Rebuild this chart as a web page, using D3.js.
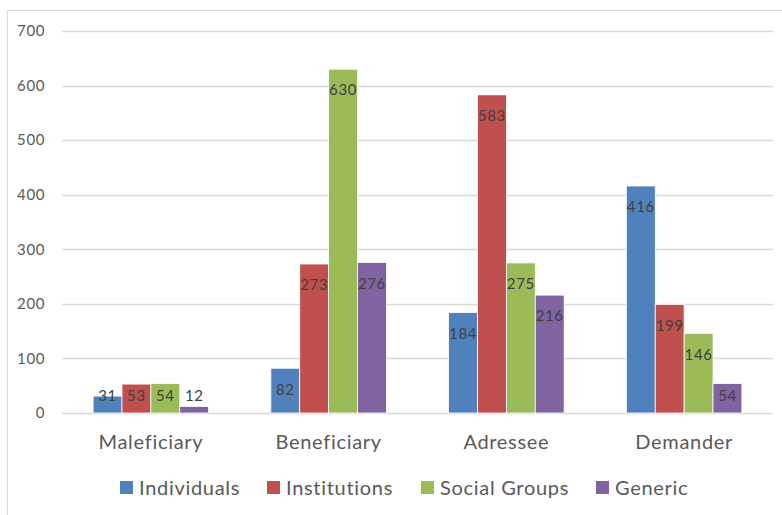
<!DOCTYPE html>
<html><head><meta charset="utf-8">
<script src="https://cdn.jsdelivr.net/npm/d3@7"></script>
<style>html,body{margin:0;padding:0;background:#fff}svg{display:block}</style>
</head><body>
<svg id="chart" width="782" height="515"></svg>
<script>
const categories = ["Maleficiary", "Beneficiary", "Adressee", "Demander"];
const seriesNames = ["Individuals", "Institutions", "Social Groups", "Generic"];
const individuals = [31, 82, 184, 416];
const institutions = [53, 273, 583, 199];
const socialGroups = [54, 630, 275, 146];
const generic = [12, 276, 216, 54];
const yTicks = [0, 100, 200, 300, 400, 500, 600, 700];
const colors = ["#4F81BD", "#C0504D", "#9BBB59", "#8064A2"];

(function () {
const seriesValues = [individuals, institutions, socialGroups, generic];
const font = "Lato, 'Open Sans', sans-serif";
const svg = d3.select("#chart");

svg.append("rect").attr("x", 7.5).attr("y", 10.5).attr("width", 800).attr("height", 600)
  .attr("fill", "#fff").attr("stroke", "#d9d9d9").attr("stroke-width", 1);

const pLeft = 62, pRight = 773, pTop = 31, pBottom = 413;
const y = d3.scaleLinear().domain([0, 700]).range([pBottom, pTop]);
const x0 = d3.scaleBand().domain(categories).range([pLeft, pRight]).paddingInner(0.35).paddingOuter(0.175);
const x1 = d3.scaleBand().domain(seriesNames).range([0, x0.bandwidth()]);

svg.append("g").selectAll("line").data(yTicks).join("line")
  .attr("x1", pLeft).attr("x2", pRight)
  .attr("y1", d => Math.round(y(d)) + 0.5).attr("y2", d => Math.round(y(d)) + 0.5)
  .attr("stroke", "#d9d9d9").attr("stroke-width", 1.3);

const yAxis = d3.axisLeft(y).tickValues(yTicks).tickSize(0).tickPadding(0);
const ya = svg.append("g").attr("transform", `translate(45,0)`).call(yAxis);
ya.select(".domain").remove();
ya.selectAll("text").attr("font-family", font).attr("font-size", 15).attr("letter-spacing", 0.6)
  .attr("fill", "#595959");

const rows = categories.map((c, i) => ({ cat: c, vals: seriesNames.map((s, j) => ({ s, j, v: seriesValues[j][i] })) }));
const g = svg.append("g").selectAll("g").data(rows).join("g")
  .attr("transform", d => `translate(${x0(d.cat)},0)`);
g.selectAll("rect").data(d => d.vals).join("rect")
  .attr("x", d => x1(d.s)).attr("width", x1.bandwidth())
  .attr("y", d => y(d.v)).attr("height", d => y(0) - y(d.v))
  .attr("fill", d => colors[d.j]).attr("stroke", "#fff").attr("stroke-width", 0.8);
g.selectAll("text").data(d => d.vals).join("text")
  .attr("x", d => x1(d.s) + x1.bandwidth() / 2)
  .attr("y", d => Math.min(y(d.v) + 21, y(0) - 17))
  .attr("dy", "0.35em").attr("text-anchor", "middle")
  .attr("font-family", font).attr("font-size", 15).attr("letter-spacing", 0.6).attr("fill", "#404040")
  .text(d => d.v);

const xAxis = d3.axisBottom(x0).tickSize(0).tickPadding(0);
const xa = svg.append("g").attr("transform", `translate(0,${pBottom})`).call(xAxis);
xa.select(".domain").remove();
xa.selectAll("text").attr("y", 29).attr("dy", "0.35em")
  .attr("font-family", font).attr("font-size", 20).attr("letter-spacing", 0.7).attr("fill", "#595959");

const legendX = [120, 267, 421, 596];
const lg = svg.append("g").selectAll("g").data(seriesNames).join("g")
  .attr("transform", (d, i) => `translate(${legendX[i]},481)`);
lg.append("rect").attr("width", 13).attr("height", 13).attr("fill", (d, i) => colors[i]);
lg.append("text").attr("x", 19).attr("y", 6.5).attr("dy", "0.35em")
  .attr("font-family", font).attr("font-size", 20).attr("letter-spacing", 0.7)
  .attr("fill", "#595959").text(d => d);
})();
</script>
</body></html>
